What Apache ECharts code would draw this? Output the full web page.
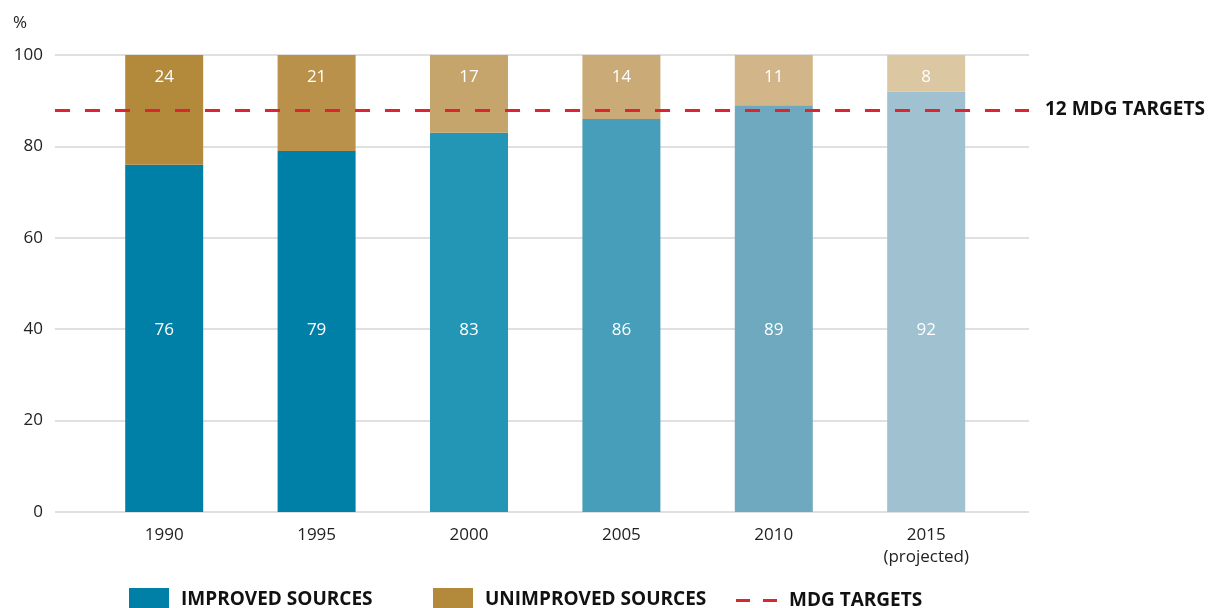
<!DOCTYPE html>
<html>
<head>
<meta charset="utf-8">
<script src="https://cdn.jsdelivr.net/npm/echarts@6/dist/echarts.min.js"></script>
<style>
  html, body { margin: 0; padding: 0; background: #fff; }
  #chart { width: 1216px; height: 608px; }
</style>
</head>
<body>
<div id="chart"></div>
<script>
// data
var years = ['1990', '1995', '2000', '2005', '2010', '2015\n(projected)'];
var improved = [76, 79, 83, 86, 89, 92];
var unimproved = [24, 21, 17, 14, 11, 8];
var mdgTarget = 88;
var yTicks = [0, 20, 40, 60, 80, 100];

// colours per bar (they fade over time)
var improvedColors = ['#0080a6', '#0080a6', '#2296b4', '#469eba', '#6ea9c0', '#9fc1d0'];
var unimprovedColors = ['#b38a3b', '#b9914a', '#c5a56c', '#caab77', '#d2b689', '#dbc7a1'];

var fontFam = '"Open Sans", Lato, sans-serif';
var legendText = { fontSize: 19, fontWeight: 'bold', color: '#111', fontFamily: fontFam, padding: [0, 0, 0, 7] };

var chart = echarts.init(document.getElementById('chart'));

var option = {
  animation: false,
  title: {
    text: '%',
    left: 13,
    top: 15,
    padding: 0,
    textStyle: { fontSize: 17, fontWeight: 'normal', color: '#222', fontFamily: fontFam }
  },
  // two grids: the narrow one holds the bars, the wide one the gridlines + target line
  grid: [
    { left: 88, right: 213.6, top: 55, bottom: 96 },
    { left: 55, right: 187, top: 55, bottom: 96 }
  ],
  legend: [
    {
      data: [{ name: 'IMPROVED SOURCES', icon: 'rect' }],
      left: 129, top: 588, padding: 0, itemWidth: 40, itemHeight: 24,
      textStyle: legendText
    },
    {
      data: [{ name: 'UNIMPROVED SOURCES', icon: 'rect' }],
      left: 433, top: 588, padding: 0, itemWidth: 40, itemHeight: 24,
      textStyle: legendText
    },
    {
      data: [{ name: 'MDG TARGETS', icon: 'path://M0,0h14v3h-14z M27,0h14v3h-14z', itemStyle: { color: '#d7282f', borderWidth: 0 } }],
      left: 736, top: 591, padding: 0, itemWidth: 41, itemHeight: 3,
      textStyle: legendText
    }
  ],
  xAxis: [
    {
      type: 'category',
      gridIndex: 0,
      data: years,
      axisLine: { show: false },
      axisTick: { show: false },
      axisLabel: { fontSize: 17, color: '#222', margin: 12, lineHeight: 22, fontFamily: fontFam }
    },
    { type: 'value', gridIndex: 1, min: 0, max: 1, show: false }
  ],
  yAxis: [
    { type: 'value', gridIndex: 0, min: 0, max: 100, show: false },
    {
      type: 'value',
      gridIndex: 1,
      min: yTicks[0],
      max: yTicks[yTicks.length - 1],
      interval: 20,
      axisLine: { show: false },
      axisTick: { show: false },
      axisLabel: { fontSize: 17, color: '#222', margin: 12, fontFamily: fontFam },
      splitLine: { lineStyle: { color: '#d6d6d6', width: 1.5 } }
    }
  ],
  series: [
    {
      name: 'IMPROVED SOURCES',
      type: 'bar',
      stack: 'water',
      xAxisIndex: 0, yAxisIndex: 0,
      barWidth: 78,
      itemStyle: { color: improvedColors[0] },
      data: improved.map(function (v, i) {
        return { value: v, itemStyle: { color: improvedColors[i] } };
      }),
      label: {
        show: true, position: 'insideBottom', distance: 173,
        color: '#fff', fontSize: 17, fontFamily: fontFam
      }
    },
    {
      name: 'UNIMPROVED SOURCES',
      type: 'bar',
      stack: 'water',
      xAxisIndex: 0, yAxisIndex: 0,
      barWidth: 78,
      itemStyle: { color: unimprovedColors[0] },
      data: unimproved.map(function (v, i) {
        return { value: v, itemStyle: { color: unimprovedColors[i] } };
      }),
      label: {
        show: true, position: 'insideTop', distance: 14,
        color: '#fff', fontSize: 17, fontFamily: fontFam
      }
    },
    {
      name: 'MDG TARGETS',
      type: 'line',
      xAxisIndex: 1, yAxisIndex: 1,
      data: [],
      z: 5,
      itemStyle: { color: '#d7282f' },
      lineStyle: { color: '#d7282f' },
      markLine: {
        silent: true,
        symbol: 'none',
        lineStyle: { color: '#dc2530', type: [15, 15], width: 3, opacity: 1 },
        label: {
          show: true,
          position: 'end',
          distance: 16,
          formatter: '12 MDG TARGETS',
          fontSize: 19,
          fontWeight: 'bold',
          color: '#111',
          fontFamily: fontFam
        },
        data: [{ yAxis: mdgTarget }]
      }
    }
  ]
};

chart.setOption(option);
</script>
</body>
</html>
